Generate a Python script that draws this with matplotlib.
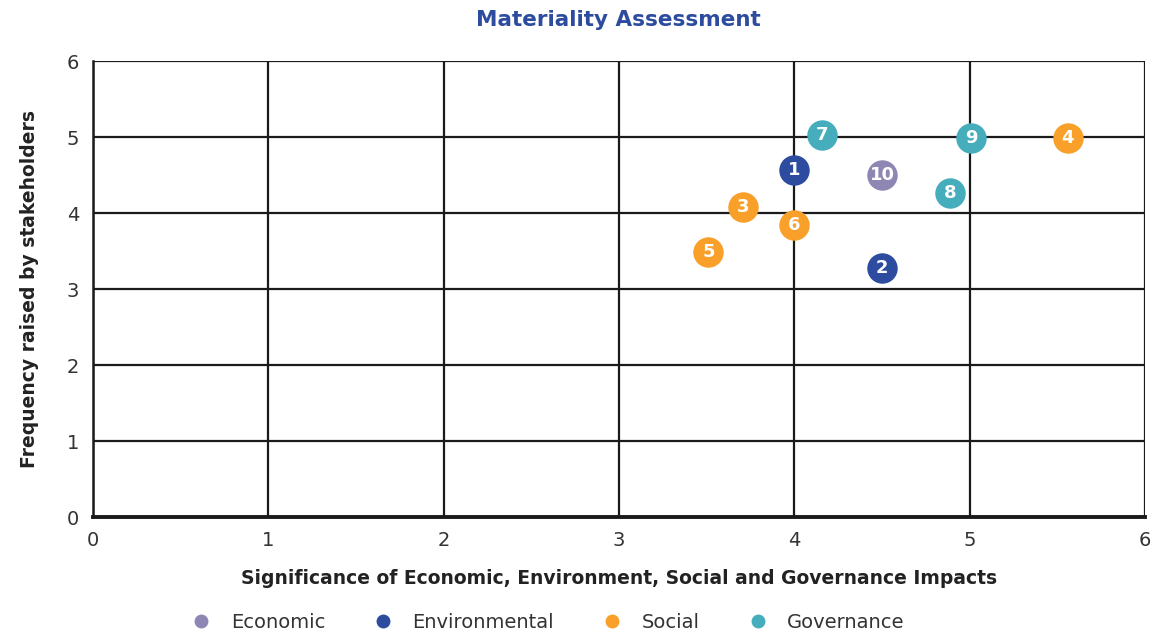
import matplotlib
matplotlib.use('Agg')
from matplotlib import pyplot as plt
from matplotlib.lines import Line2D

# data
labels = ["1", "2", "3", "4", "5", "6", "7", "8", "9", "10"]
x_vals = [4.0, 4.5, 3.71, 5.56, 3.51, 4.0, 4.16, 4.89, 5.01, 4.5]
y_vals = [4.57, 3.28, 4.08, 4.99, 3.49, 3.84, 5.03, 4.26, 4.99, 4.5]
groups = ["Environmental", "Environmental", "Social", "Social", "Social",
          "Social", "Governance", "Governance", "Governance", "Economic"]

categories = ["Economic", "Environmental", "Social", "Governance"]
colors = {"Economic": "#8E87B3", "Environmental": "#2D4C9F",
          "Social": "#F8A02A", "Governance": "#45ADBC"}

plt.rcParams['font.family'] = ['DejaVu Sans']

fig = plt.figure(figsize=(11.56, 6.36), dpi=100)
ax = fig.add_axes([0.0804, 0.187, 0.9101, 0.717])

ax.set_xlim(0, 6)
ax.set_ylim(0, 6)
ax.set_xticks(range(7))
ax.set_yticks(range(7))
ax.grid(True, color='#1a1a1a', linewidth=1.6)
ax.set_axisbelow(True)
for side in ['top', 'right']:
    ax.spines[side].set_visible(False)
ax.spines['left'].set_linewidth(1.8)
ax.spines['bottom'].set_linewidth(2.8)
ax.spines['left'].set_color('#1a1a1a')
ax.spines['bottom'].set_color('#1a1a1a')
ax.tick_params(length=0, labelsize=14, colors='#333333', pad=10)

for lab, xv, yv, g in zip(labels, x_vals, y_vals, groups):
    ax.scatter(xv, yv, s=480, color=colors[g], zorder=3, linewidths=0)
    ax.text(xv, yv, lab, color='white', fontsize=13, fontweight='bold',
            ha='center', va='center', zorder=4)

ax.set_xlabel("Significance of Economic, Environment, Social and Governance Impacts",
              fontsize=13.5, fontweight='bold', color='#222222', labelpad=14)
ax.set_ylabel("Frequency raised by stakeholders",
              fontsize=13.5, fontweight='bold', color='#222222', labelpad=20)
fig.text(0.535, 0.969, "Materiality Assessment", fontsize=15.5, fontweight='bold',
         color='#2D4C9F', ha='center', va='center')

handles = [Line2D([0], [0], marker='o', linestyle='', markersize=10,
                  markerfacecolor=colors[c], markeredgewidth=0) for c in categories]
fig.legend(handles, categories, loc='center', bbox_to_anchor=(0.47, 0.022),
           ncol=4, frameon=False, fontsize=14, handletextpad=0.5,
           columnspacing=2.0, labelcolor='#333333')

plt.savefig("out.png", dpi=100)
plt.close()
